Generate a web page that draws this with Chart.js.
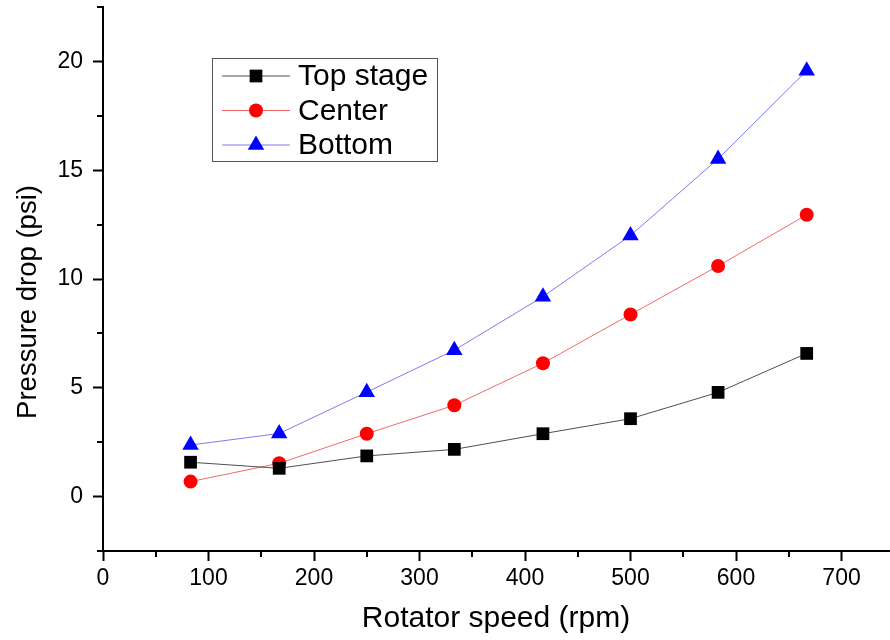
<!DOCTYPE html>
<html>
<head>
<meta charset="utf-8">
<script src="https://cdn.jsdelivr.net/npm/chart.js@4.4.1/dist/chart.umd.min.js"></script>
<style>
  html, body { margin: 0; padding: 0; background: #fff; overflow: hidden; }
  #wrap { width: 890px; height: 640px; position: relative; }
</style>
</head>
<body>
<div id="wrap"><canvas id="c" width="890" height="640"></canvas></div>
<script>
// ---- data ----
const rotatorSpeed = [83, 167, 250, 333, 417, 500, 583, 667];
const topStage = [1.58, 1.30, 1.87, 2.17, 2.89, 3.58, 4.79, 6.58];
const center   = [0.69, 1.53, 2.89, 4.20, 6.13, 8.37, 10.60, 12.95];
const bottom   = [2.37, 2.90, 4.80, 6.73, 9.19, 12.00, 15.52, 19.57];
const seriesNames = ['Top stage', 'Center', 'Bottom'];
const xMajorTicks = [0, 100, 200, 300, 400, 500, 600, 700];
const yMajorTicks = [0, 5, 10, 15, 20];
const xTitle = 'Rotator speed (rpm)';
const yTitle = 'Pressure drop (psi)';

const FONT = '"Liberation Sans", Arial, sans-serif';

function pts(ys) { return rotatorSpeed.map((x, i) => ({ x: x, y: ys[i] })); }

// minor ticks plugin (drawn through the scales)
const minorTicks = {
  id: 'minorTicks',
  afterDraw(chart) {
    const ctx = chart.ctx;
    const xs = chart.scales.x, ys = chart.scales.y;
    ctx.save();
    ctx.strokeStyle = '#000';
    ctx.lineWidth = 2;
    for (let v = 50; v <= xs.max; v += 100) {
      const px = Math.round(xs.getPixelForValue(v));
      ctx.beginPath(); ctx.moveTo(px, xs.top); ctx.lineTo(px, xs.top + 6); ctx.stroke();
    }
    for (let v = -2.5; v <= ys.max; v += 5) {
      const py = Math.round(ys.getPixelForValue(v));
      ctx.beginPath(); ctx.moveTo(ys.right, py); ctx.lineTo(ys.right - 6, py); ctx.stroke();
    }
    ctx.restore();
  }
};

// y-axis title (placed like the original, a bit below the axis centre)
const yTitlePlugin = {
  id: 'yTitlePlugin',
  afterDraw(chart) {
    const ctx = chart.ctx;
    const ca = chart.chartArea;
    ctx.save();
    ctx.translate(36, (ca.top + ca.bottom) / 2 + 23);
    ctx.rotate(-Math.PI / 2);
    ctx.fillStyle = '#000';
    ctx.font = '27.5px ' + FONT;
    ctx.textAlign = 'center';
    ctx.textBaseline = 'alphabetic';
    ctx.fillText(yTitle, 0, 0);
    ctx.restore();
  }
};

// in-plot legend box
const boxLegend = {
  id: 'boxLegend',
  afterDraw(chart) {
    const ctx = chart.ctx;
    const ca = chart.chartArea;
    const bx = ca.left + 109, by = ca.top + 51, bw = 225, bh = 103;
    ctx.save();
    ctx.strokeStyle = '#555';
    ctx.lineWidth = 1;
    ctx.strokeRect(bx + 0.5, by + 0.5, bw, bh);
    chart.data.datasets.forEach((ds, i) => {
      const cy = by + 18 + i * 34.5;
      ctx.strokeStyle = ds.borderColor;
      ctx.lineWidth = 1;
      ctx.beginPath(); ctx.moveTo(bx + 10, cy); ctx.lineTo(bx + 78, cy); ctx.stroke();
      ctx.fillStyle = ds.pointBackgroundColor;
      ctx.strokeStyle = ds.pointBackgroundColor;
      Chart.helpers.drawPoint(ctx, { pointStyle: ds.pointStyle, radius: ds.pointRadius, borderWidth: 0, rotation: 0 }, bx + 44, cy);
      ctx.fillStyle = '#000';
      ctx.font = '30px ' + FONT;
      ctx.textBaseline = 'middle';
      ctx.textAlign = 'left';
      ctx.fillText(ds.label, bx + 86, cy + 1);
    });
    ctx.restore();
  }
};

function noPad(s) { s.paddingTop = 0; s.paddingBottom = 0; s.paddingLeft = 0; s.paddingRight = 0; }

new Chart(document.getElementById('c'), {
  type: 'line',
  data: {
    datasets: [
      { label: seriesNames[0], data: pts(topStage), borderColor: 'rgba(60,60,60,0.9)', borderWidth: 1,
        pointStyle: 'rect', pointRadius: 9, pointBackgroundColor: '#000', pointBorderWidth: 0 },
      { label: seriesNames[1], data: pts(center), borderColor: 'rgba(240,90,90,0.9)', borderWidth: 1,
        pointStyle: 'circle', pointRadius: 7, pointBackgroundColor: '#ff0000', pointBorderWidth: 0 },
      { label: seriesNames[2], data: pts(bottom), borderColor: 'rgba(110,110,240,0.9)', borderWidth: 1,
        pointStyle: 'triangle', pointRadius: 9.5, pointBackgroundColor: '#0000ff', pointBorderWidth: 0 }
    ]
  },
  options: {
    responsive: false,
    animation: false,
    layout: { autoPadding: false, padding: { top: 7, right: 1, left: 0, bottom: 0 } },
    plugins: { legend: { display: false }, tooltip: { enabled: false } },
    scales: {
      x: {
        type: 'linear', min: 0, max: 745,
        afterBuildTicks(s) { s.ticks = xMajorTicks.map(v => ({ value: v })); },
        afterFit(s) { s.height = 89; noPad(s); },
        border: { display: true, color: '#000', width: 2 },
        grid: { drawOnChartArea: false, drawTicks: true, tickLength: 10, tickColor: '#000', tickWidth: 2 },
        ticks: { color: '#000', font: { family: FONT, size: 23 }, padding: 4, maxRotation: 0 },
        title: { display: true, text: xTitle, color: '#000', font: { family: FONT, size: 30 }, padding: { bottom: 3 } }
      },
      y: {
        type: 'linear', min: -2.5, max: 22.5,
        afterBuildTicks(s) { s.ticks = yMajorTicks.map(v => ({ value: v })); },
        afterFit(s) { s.width = 103; noPad(s); },
        border: { display: true, color: '#000', width: 2 },
        grid: { drawOnChartArea: false, drawTicks: true, tickLength: 10, tickColor: '#000', tickWidth: 2 },
        ticks: { color: '#000', font: { family: FONT, size: 23 }, padding: 10 },
        title: { display: false }
      }
    }
  },
  plugins: [minorTicks, boxLegend, yTitlePlugin]
});
</script>
</body>
</html>
